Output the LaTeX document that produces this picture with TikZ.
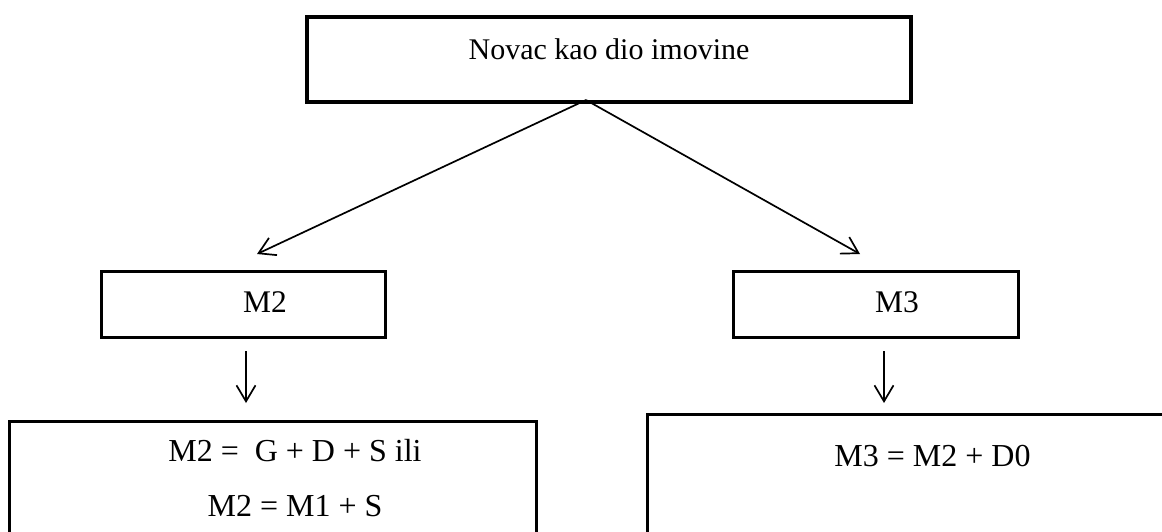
\documentclass[tikz,border=0pt]{standalone}
\usepackage{fontspec}
\setmainfont{Liberation Serif}
\usetikzlibrary{positioning, calc, arrows.meta}

\begin{document}
\begin{tikzpicture}[
    x=1pt, y=-1pt,
    box/.style={rectangle, draw=black, line width=3pt, inner sep=0pt},
    arrow/.style={-{Straight Barb[length=16pt, width=19pt]}, line width=1.7pt}
]

    \clip (0,0) rectangle (1162,531);

    % Top box
    \node[box, line width=4pt, anchor=north, minimum width=604pt,
          text height=42pt, text depth=43pt, font=\fontsize{30}{36}\selectfont]
          (money) at (609,15) {Novac kao dio imovine};

    % Aggregates
    \node[box, anchor=north, minimum width=284pt, text height=41pt, text depth=25pt,
          font=\fontsize{31.5}{36}\selectfont]
          (m2) at (243,270) {\hspace*{44pt}M2};
    \node[box, anchor=north, minimum width=285pt, text height=41pt, text depth=25pt,
          font=\fontsize{31.5}{36}\selectfont]
          (m3) at (875.5,270) {\hspace*{43pt}M3};

    % Definitions
    \node[box, anchor=north, minimum width=527pt, text height=40pt, text depth=150pt,
          font=\fontsize{32}{55}\selectfont]
          (m2eq) at (272.5,420)
          {\hspace*{45pt}\begin{tabular}[t]{@{}c@{}}M2 =~~G + D + S ili\\ M2 = M1 + S\end{tabular}};
    \node[box, anchor=north west, minimum width=560pt, text height=52pt, text depth=150pt,
          font=\fontsize{32}{36}\selectfont]
          (m3eq) at (646,413) {\hspace*{10pt}M3 = M2 + D0};

    % Connections
    \coordinate (split) at (586,100);
    \coordinate (m2in) at (257,254);
    \coordinate (m3in) at (860,254);
    \draw[arrow] (split) -- (m2in);
    \draw[arrow] (split) -- (m3in);

    \draw[arrow, shorten <=12pt, shorten >=17pt] ($(m2.south)+(3,0)$) -- ($(m2.south |- m2eq.north)+(3,0)$);
    \draw[arrow, shorten <=12pt, shorten >=10pt] ($(m3.south)+(8.5,0)$) -- ($(m3.south |- m3eq.north)+(8.5,0)$);

\end{tikzpicture}
\end{document}
